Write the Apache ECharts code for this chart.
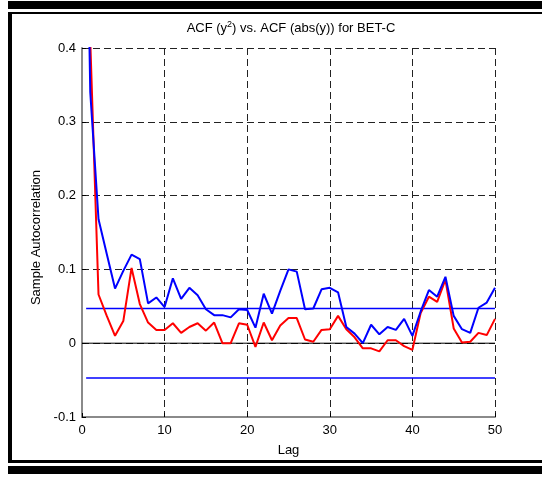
<!DOCTYPE html>
<html>
<head>
<meta charset="utf-8">
<script src="https://cdn.jsdelivr.net/npm/echarts@6/dist/echarts.min.js"></script>
<style>
  html, body { margin: 0; padding: 0; background: #fff; }
  #chart { width: 542px; height: 477px; }
</style>
</head>
<body>
<div id="chart"></div>
<script>
// Lags 0..50
const lags = Array.from({ length: 51 }, (_, i) => i);

// Sample autocorrelation of squared returns
const acfSquared = [
  1.000, 0.410, 0.066, 0.037, 0.010, 0.030, 0.102, 0.053, 0.028, 0.018,
  0.018, 0.027, 0.014, 0.022, 0.027, 0.017, 0.028, 0.000, 0.000, 0.027,
  0.025, -0.005, 0.028, 0.004, 0.024, 0.034, 0.034, 0.005, 0.002, 0.018,
  0.019, 0.037, 0.019, 0.008, -0.007, -0.007, -0.011, 0.004, 0.004, -0.004,
  -0.009, 0.041, 0.063, 0.056, 0.086, 0.020, 0.001, 0.002, 0.014, 0.011,
  0.033
];

// Sample autocorrelation of absolute returns
const acfAbs = [
  1.000, 0.340, 0.168, 0.121, 0.074, 0.098, 0.120, 0.114, 0.054, 0.062,
  0.049, 0.088, 0.060, 0.075, 0.065, 0.046, 0.038, 0.038, 0.035, 0.046,
  0.045, 0.021, 0.067, 0.040, 0.071, 0.100, 0.097, 0.046, 0.047, 0.073,
  0.075, 0.069, 0.022, 0.013, 0.000, 0.025, 0.012, 0.022, 0.018, 0.033,
  0.010, 0.043, 0.072, 0.063, 0.090, 0.037, 0.019, 0.014, 0.048, 0.055,
  0.075
];

// Confidence bounds and their lag span, plus the zero reference
const confBounds = [0.047, -0.047];
const boundLags = [0.5, 50];
const zeroLags = [0, 50];

const xTicks = [0, 10, 20, 30, 40, 50];
const yTicks = [-0.1, 0, 0.1, 0.2, 0.3, 0.4];

const FONT = '"Liberation Sans", Arial, Helvetica, sans-serif';
const FS = 13;

const pairs = (ys) => lags.map((l, i) => [l, ys[i]]);

const chart = echarts.init(document.getElementById('chart'), null, { renderer: 'canvas' });

chart.setOption({
  animation: false,
  backgroundColor: '#fff',
  title: {
    text: 'ACF (y{sup|2}) vs. ACF (abs(y)) for BET-C',
    left: 286,
    top: 15,
    textAlign: 'center',
    textStyle: {
      fontFamily: FONT,
      fontSize: FS,
      fontWeight: 'normal',
      color: '#000',
      lineHeight: 16,
      rich: {
        sup: { fontFamily: FONT, fontSize: 9, color: '#000', verticalAlign: 'top', lineHeight: 9, padding: [0, 0, 6, 0] }
      }
    }
  },
  grid: { left: 82, right: 47, top: 48, bottom: 60, containLabel: false },
  xAxis: {
    type: 'value',
    min: xTicks[0],
    max: xTicks[xTicks.length - 1],
    interval: 10,
    name: 'Lag',
    nameLocation: 'middle',
    nameGap: 27,
    nameTextStyle: { fontFamily: FONT, fontSize: FS, color: '#000' },
    axisLine: { show: true, onZero: false, lineStyle: { color: '#8a8a8a', width: 2 } },
    axisTick: { show: true, inside: true, length: 4, lineStyle: { color: '#000' } },
    axisLabel: { fontFamily: FONT, fontSize: FS, color: '#000', margin: 7 },
    splitLine: { show: true, lineStyle: { color: '#222', width: 1, type: [7, 4] } }
  },
  yAxis: {
    type: 'value',
    min: yTicks[0],
    max: yTicks[yTicks.length - 1],
    interval: 0.1,
    name: 'Sample Autocorrelation',
    nameLocation: 'middle',
    nameRotate: 90,
    nameGap: 37,
    nameTextStyle: { fontFamily: FONT, fontSize: FS, color: '#000', padding: [0, 0, 0, -10] },
    axisLine: { show: true, onZero: false, lineStyle: { color: '#8a8a8a', width: 2 } },
    axisTick: { show: true, inside: true, length: 4, lineStyle: { color: '#000' } },
    axisLabel: {
      fontFamily: FONT, fontSize: FS, color: '#000', margin: 6,
      formatter: (v) => {
        const r = Math.round(v * 10) / 10;
        return r === 0 ? '0' : r.toFixed(1);
      }
    },
    splitLine: { show: true, lineStyle: { color: '#222', width: 1, type: [7, 4] } }
  },
  series: [
    {
      name: 'zero',
      type: 'line',
      data: zeroLags.map((l) => [l, 0]),
      symbol: 'none',
      silent: true,
      lineStyle: { color: '#000', width: 1 },
      z: 3
    },
    {
      name: 'upper bound',
      type: 'line',
      data: boundLags.map((l) => [l, confBounds[0]]),
      symbol: 'none',
      silent: true,
      lineStyle: { color: '#0000ff', width: 1.5 },
      z: 3
    },
    {
      name: 'lower bound',
      type: 'line',
      data: boundLags.map((l) => [l, confBounds[1]]),
      symbol: 'none',
      silent: true,
      lineStyle: { color: '#0000ff', width: 1.5 },
      z: 3
    },
    {
      name: 'ACF(y^2)',
      type: 'line',
      data: pairs(acfSquared),
      symbol: 'none',
      clip: true,
      lineStyle: { color: '#ff0000', width: 2 },
      z: 4
    },
    {
      name: 'ACF(abs(y))',
      type: 'line',
      data: pairs(acfAbs),
      symbol: 'none',
      clip: true,
      lineStyle: { color: '#0000ff', width: 2 },
      z: 5
    }
  ],
  graphic: [
    { type: 'rect', shape: { x: 8, y: 1, width: 534, height: 8 }, style: { fill: '#000' }, silent: true },
    { type: 'rect', shape: { x: 8, y: 12, width: 534, height: 2 }, style: { fill: '#000' }, silent: true },
    { type: 'rect', shape: { x: 8, y: 12, width: 4, height: 450 }, style: { fill: '#000' }, silent: true },
    { type: 'rect', shape: { x: 8, y: 460, width: 534, height: 3 }, style: { fill: '#000' }, silent: true },
    { type: 'rect', shape: { x: 8, y: 466, width: 534, height: 8 }, style: { fill: '#000' }, silent: true }
  ]
});
</script>
</body>
</html>
